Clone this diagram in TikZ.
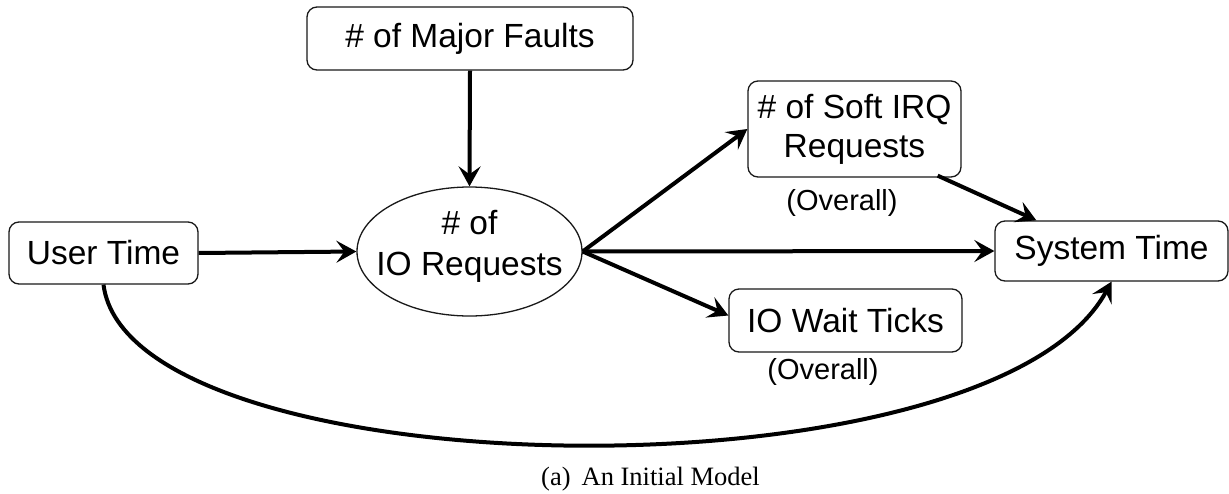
\documentclass[tikz,border=0pt]{standalone}
\usepackage{fontspec}
\setmainfont{Liberation Sans}
\newfontfamily\capfont{Liberation Serif}
\usetikzlibrary{arrows.meta,shapes.geometric,calc}

\tikzset{
  box/.style={draw=black!90, line width=1.3pt, rounded corners=10pt, fill=white,
              inner sep=0pt, align=center, font=\fontsize{33.5}{39}\selectfont},
  oval/.style={ellipse, draw=black!90, line width=1.3pt, fill=white, inner sep=0pt,
               minimum width=225pt, minimum height=129pt},
  ovaltext/.style={inner sep=0pt, align=center, font=\fontsize{33.5}{41}\selectfont},
  note/.style={font=\fontsize{29}{34}\selectfont, inner sep=0pt},
  link/.style={line width=4pt, -{Stealth[length=20pt, width=22pt, inset=8pt]}}
}

\begin{document}
\begin{tikzpicture}[x=1pt, y=-1pt]
  \useasboundingbox (0,0) rectangle (1229,493);

  % nodes
  \node[box, minimum width=326pt, minimum height=63pt] (mf) at (470,38.5) {\# of Major Faults};
  \node[box, minimum width=189pt, minimum height=62pt] (ut) at (103.5,253) {User Time};
  \node[oval] (io) at (469.5,251.5) {};
  \node[ovaltext] (iolabel) at (469.5,246) {\# of\\IO Requests};
  \node[box, minimum width=213pt, minimum height=96pt] (irq) at (854.5,129) {\# of Soft IRQ\\Requests};
  \node[box, minimum width=233pt, minimum height=60pt] (st) at (1111.5,251) {System Time};
  \node[box, minimum width=233pt, minimum height=63pt] (iow) at (845.5,320.5) {IO Wait Ticks};

  % annotations
  \node[note] (irqnote) at (842,203) {(Overall)};
  \node[note] (iownote) at (823,372) {(Overall)};

  % connectors
  \draw[link] (mf.south) -- (io.north);
  \draw[link] (ut.east) -- (io.west);
  \draw[link] (io.east) -- (irq.west);
  \draw[link] (io.east) -- (st.west);
  \draw[link] (io.east) -- ($(iow.west)+(0,-5)$);
  \draw[link] ($(irq.south east)+(-24,-2)$) -- ($(st.north west)+(42,0)$);
  \draw[link] (ut.south) .. controls +(26,206) and +(-121.5,224) .. (st.south);

  % caption
  \node[font=\capfont\fontsize{26.5}{31}\selectfont, inner sep=0pt, anchor=base west]
    (cap) at (541,485) {(a)\hspace{11pt}An Initial Model};
\end{tikzpicture}
\end{document}
